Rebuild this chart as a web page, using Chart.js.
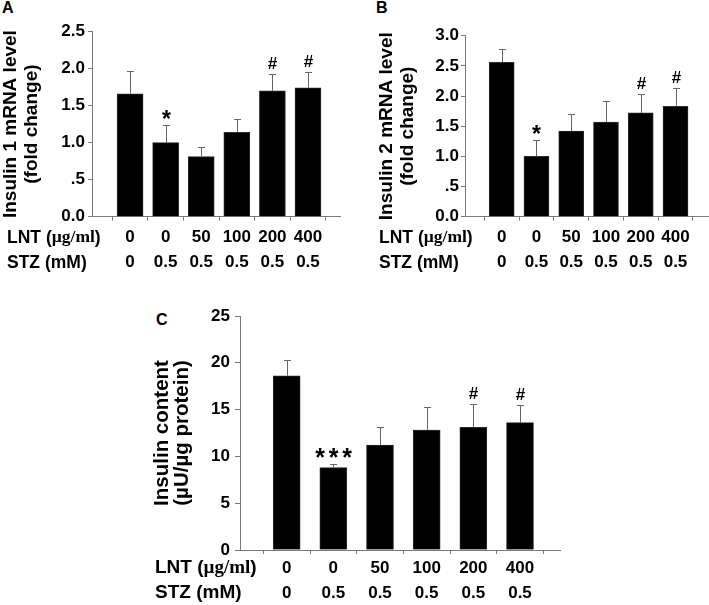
<!DOCTYPE html>
<html>
<head>
<meta charset="utf-8">
<script src="https://cdn.jsdelivr.net/npm/chart.js@4.4.1/dist/chart.umd.min.js"></script>
<style>
  html, body { margin: 0; padding: 0; background: #fff; }
  body { width: 709px; height: 605px; overflow: hidden; position: relative; font-family: "Liberation Sans", Arial, sans-serif; }
  canvas { position: absolute; }
  .lbl { position: absolute; font-weight: bold; font-size: 16px; line-height: 1; color: #000; }
</style>
</head>
<body>
<div class="lbl" style="left:2px;top:0px">A</div>
<div class="lbl" style="left:376px;top:0px">B</div>
<div class="lbl" style="left:156px;top:312px">C</div>
<canvas id="cA" width="354" height="290" style="left:0px;top:0px"></canvas>
<canvas id="cB" width="333" height="290" style="left:376px;top:0px"></canvas>
<canvas id="cC" width="420" height="315" style="left:150px;top:290px"></canvas>
<script>
// ---- data ----
const lntLabels = ['0', '0', '50', '100', '200', '400'];
const stzLabels = ['0', '0.5', '0.5', '0.5', '0.5', '0.5'];
const lntHead = [['LNT (', false], ['\u00b5g/ml', true], [')', false]];
const stzHead = [['STZ (mM)', false]];

const ins1Mean  = [1.66, 1.00, 0.81, 1.14, 1.70, 1.74];
const ins1Err   = [0.31, 0.235, 0.13, 0.18, 0.23, 0.215];
const ins1Marks = ['', '*', '', '', '#', '#'];
const ins1TickValues = [0, 0.5, 1.0, 1.5, 2.0, 2.5];
const ins1TickLabels = ['0.0', '.5', '1.0', '1.5', '2.0', '2.5'];
const ins1Title = ['Insulin 1 mRNA level', '(fold change)'];

const ins2Mean  = [2.56, 1.00, 1.42, 1.57, 1.72, 1.83];
const ins2Err   = [0.22, 0.27, 0.29, 0.345, 0.31, 0.30];
const ins2Marks = ['', '*', '', '', '#', '#'];
const ins2TickValues = [0, 0.5, 1.0, 1.5, 2.0, 2.5, 3.0];
const ins2TickLabels = ['0.0', '.5', '1.0', '1.5', '2.0', '2.5', '3.0'];
const ins2Title = ['Insulin 2 mRNA level', '(fold change)'];

const contentMean  = [18.6, 8.8, 11.2, 12.8, 13.1, 13.6];
const contentErr   = [1.7, 0.35, 1.9, 2.5, 2.5, 1.9];
const contentMarks = ['', '***', '', '', '#', '#'];
const contentTickValues = [0, 5, 10, 15, 20, 25];
const contentTickLabels = ['0', '5', '10', '15', '20', '25'];
const contentTitle = ['Insulin content', '(\u00b5U/\u00b5g protein)'];

// ---- styling ----
const FONT = '"Liberation Sans", Arial, sans-serif';
const SERIF = '"Liberation Serif", "Times New Roman", serif';
const AXIS = '#7a7a7a';
const ROW_LH = 25;
const TICK_SIZE = 17;

function decoPlugin(o) {
  return {
    id: 'deco',
    afterDatasetsDraw(chart) {
      const ctx = chart.ctx;
      const x = chart.scales.x, y = chart.scales.y;
      ctx.save();
      ctx.strokeStyle = '#666';
      ctx.lineWidth = 1;
      o.mean.forEach((m, i) => {
        const px = Math.round(x.getPixelForValue(i)) + 0.5;
        const yb = y.getPixelForValue(m);
        const yt = Math.round(y.getPixelForValue(m + o.err[i])) + 0.5;
        ctx.beginPath();
        ctx.moveTo(px, yb);
        ctx.lineTo(px, yt);
        ctx.moveTo(px - 3.5, yt);
        ctx.lineTo(px + 3.5, yt);
        ctx.stroke();
        const mk = o.marks[i];
        if (mk) {
          const isStar = mk[0] === '*';
          const size = isStar ? o.starSize : 17;
          ctx.font = 'bold ' + size + 'px ' + FONT;
          ctx.fillStyle = '#000';
          ctx.textAlign = 'center';
          ctx.textBaseline = 'alphabetic';
          const mt = ctx.measureText(mk[0]);
          const by = yt - 11.5 + (mt.actualBoundingBoxAscent - mt.actualBoundingBoxDescent) / 2;
          const pitch = o.starPitch || (mt.width + 4);
          for (let j = 0; j < mk.length; j++) {
            ctx.fillText(mk[j], px + (j - (mk.length - 1) / 2) * pitch, by);
          }
        }
      });
      // row headers (left of category rows)
      const y0 = x.top + 4 + o.xPad;
      [lntHead, stzHead].forEach((parts, r) => {
        let cx = o.headX;
        const cy = y0 + ROW_LH * (r + 0.5);
        ctx.textBaseline = 'middle';
        ctx.textAlign = 'left';
        ctx.fillStyle = '#000';
        parts.forEach(([txt, serif]) => {
          ctx.font = 'bold ' + o.headSize + 'px ' + (serif ? SERIF : FONT);
          ctx.fillText(txt, cx, cy);
          cx += ctx.measureText(txt).width;
        });
      });
      ctx.restore();
    }
  };
}

function buildPanel(id, o) {
  const idx = o.mean.map((_, i) => i);
  return new Chart(document.getElementById(id), {
    type: 'bar',
    data: {
      datasets: [{
        data: o.mean.map((v, i) => ({ x: i, y: v })),
        backgroundColor: '#000',
        borderColor: '#2a2a2a',
        borderWidth: 1,
        barThickness: o.barW
      }]
    },
    options: {
      responsive: false,
      animation: false,
      devicePixelRatio: 1,
      layout: { padding: { left: 0, top: o.padTop, right: o.padRight, bottom: 0 } },
      plugins: { legend: { display: false }, tooltip: { enabled: false } },
      scales: {
        x: {
          type: 'linear',
          bounds: 'data',
          min: o.xMin,
          max: o.xMax,
          offset: false,
          afterBuildTicks: s => { s.ticks = idx.map(v => ({ value: v })); },
          afterFit: s => { s.height = o.xH; s.paddingLeft = 0; s.paddingRight = 0; },
          ticks: {
            autoSkip: false, maxRotation: 0, minRotation: 0,
            padding: o.xPad, color: '#000',
            font: { family: FONT, size: TICK_SIZE, weight: 'bold', lineHeight: ROW_LH / TICK_SIZE },
            callback: v => [lntLabels[v], stzLabels[v]]
          },
          grid: { drawOnChartArea: false, drawTicks: true, tickLength: 4, color: AXIS },
          border: { display: true, color: AXIS, width: 1 }
        },
        y: {
          type: 'linear',
          min: 0,
          max: o.tickValues[o.tickValues.length - 1],
          afterBuildTicks: s => { s.ticks = o.tickValues.map(v => ({ value: v })); },
          afterFit: s => { s.width = o.yW; s.paddingTop = 0; s.paddingBottom = 0; },
          ticks: {
            padding: o.yPad, color: '#000',
            font: { family: FONT, size: TICK_SIZE, weight: 'bold' },
            callback: (v, i) => o.tickLabels[i]
          },
          grid: { drawOnChartArea: false, drawTicks: true, tickLength: o.yTL, color: AXIS },
          border: { display: true, color: AXIS, width: 1 },
          title: {
            display: true, text: o.title, color: '#000',
            font: { family: FONT, size: o.tSize, weight: 'bold', lineHeight: o.tLH },
            padding: { top: o.tPad, bottom: 0 }
          }
        }
      }
    },
    plugins: [decoPlugin(o)]
  });
}

buildPanel('cA', {
  mean: ins1Mean, err: ins1Err, marks: ins1Marks,
  tickValues: ins1TickValues, tickLabels: ins1TickLabels, title: ins1Title,
  padTop: 31.5, padRight: 14, xH: 73.3, xPad: 4.5, yW: 92, yPad: 3, yTL: 4,
  xMin: -1.07, xMax: 5.9, barW: 26, tSize: 19, tLH: 21.5 / 19, tPad: 0,
  headX: 7, headSize: 17.5, starSize: 23
});

buildPanel('cB', {
  mean: ins2Mean, err: ins2Err, marks: ins2Marks,
  tickValues: ins2TickValues, tickLabels: ins2TickLabels, title: ins2Title,
  padTop: 35.7, padRight: 1, xH: 73.3, xPad: 4.5, yW: 89, yPad: 2, yTL: 4,
  xMin: -1.056, xMax: 5.935, barW: 25, tSize: 19, tLH: 21.5 / 19, tPad: 0,
  headX: 3, headSize: 17.5, starSize: 23
});

buildPanel('cC', {
  mean: contentMean, err: contentErr, marks: contentMarks,
  tickValues: contentTickValues, tickLabels: contentTickLabels, title: contentTitle,
  padTop: 26, padRight: 10, xH: 55, xPad: 1.5, yW: 90, yPad: 5, yTL: 5,
  xMin: -1.0, xMax: 5.857, barW: 27, tSize: 20.5, tLH: 20 / 20.5, tPad: 2,
  headX: 5, headSize: 19, starSize: 25, starPitch: 13.5
});
</script>
</body>
</html>
